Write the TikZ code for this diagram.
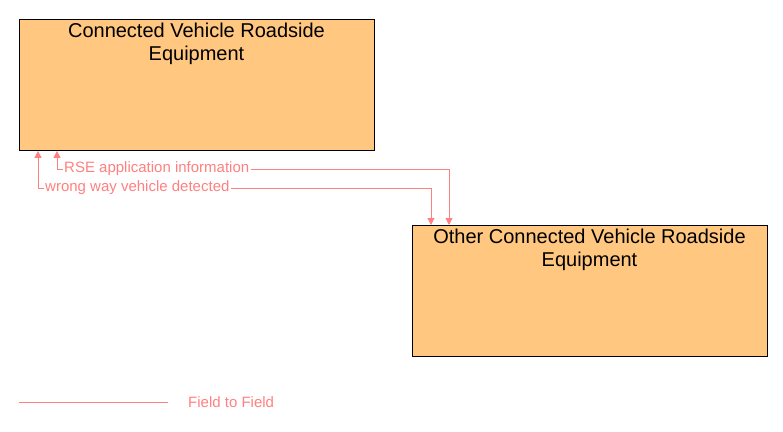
\documentclass[tikz,border=0pt]{standalone}
\usepackage{fontspec}
\setmainfont{Liberation Sans}
\usetikzlibrary{arrows.meta,calc}
\definecolor{boxfill}{RGB}{255,199,127}
\definecolor{flowc}{RGB}{255,128,128}
\tikzset{
  ent/.style={draw=black, fill=boxfill, line width=0.9pt, minimum width=355pt, minimum height=131pt, anchor=north west, inner sep=0pt},
  ttl/.style={align=center, font=\fontsize{20}{23}\selectfont, anchor=north, inner sep=0pt},
  flow/.style={draw=flowc, line width=0.9pt},
  tip/.style={-{Triangle[width=7pt,length=7pt]}},
  lbl/.style={text=flowc, font=\fontsize{15}{17}\selectfont, inner sep=1pt}
}
\begin{document}
\begin{tikzpicture}[x=1pt,y=-1pt]
\useasboundingbox (0,0) rectangle (783,431);
\node[ent] (b1) at (19,19) {};
\node[ent] (b2) at (412,225) {};
\node[ttl] (t1) at (196.5,22.5) {Connected Vehicle Roadside\\Equipment};
\node[ttl] (t2) at (589.5,228.5) {Other Connected Vehicle Roadside\\Equipment};
\node[lbl, anchor=west] (l1) at (63,169) {RSE application information};
\node[lbl, anchor=west] (l2) at (44,188) {wrong way vehicle detected};
\coordinate (a1) at ($(b1.south west)+(38,0)$);
\coordinate (a2) at ($(b1.south west)+(19,0)$);
\coordinate (c1) at ($(b2.north west)+(37,0)$);
\coordinate (c2) at ($(b2.north west)+(19,0)$);
\draw[flow,tip] (l1.west) -| (a1);
\draw[flow,tip] (l1.east) -| (c1);
\draw[flow,tip] (l2.west) -| (a2);
\draw[flow,tip] (l2.east) -| (c2);
\coordinate (g1) at (19,402);
\coordinate (g2) at (168,402);
\draw[flow] (g1) -- (g2);
\node[lbl, anchor=west] (g) at (187,402) {Field to Field};
\end{tikzpicture}
\end{document}
